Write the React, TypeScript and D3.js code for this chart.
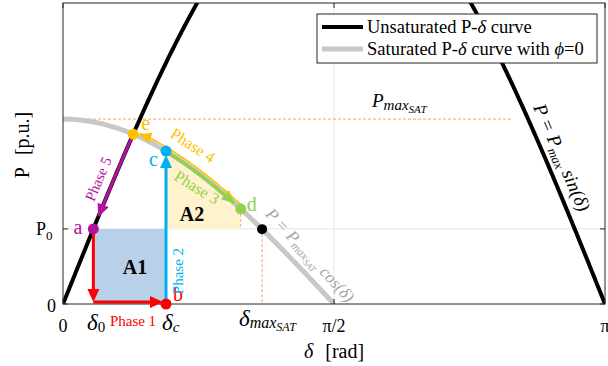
import React from 'react';
import * as d3 from 'd3';

// ---- data (p.u., rad) ----
const xTickValues = [0, Math.PI / 2, Math.PI];
const xTickLabels = ['0', 'π/2', 'π'];
const yTickValues = [0, 0.175];
const P_MAX = 1.0;
const P_MAX_SAT = 0.431;
const P0 = 0.175;
const Y_TOP = 0.7016;
const pointNames = ['a', 'b', 'c', 'd', 'e'];
const pointDeltas = [0.176, 0.597, 0.597, 1.03, 0.407];
const DELTA_MAXSAT = 1.154;

const W = 608;
const H = 366;
const FONT = '"Liberation Serif", "Times New Roman", serif';

const RED = '#ff0000';
const BLUE = '#00b0f0';
const GREEN = '#92d050';
const ORANGE = '#ffc000';
const PURPLE = '#b4129e';
const GRAY = '#c8c8c8';

function arrowHead(tip: number[], from: number[], color: string, len = 13, half = 6) {
  const dx = tip[0] - from[0];
  const dy = tip[1] - from[1];
  const L = Math.hypot(dx, dy) || 1;
  const ux = dx / L, uy = dy / L;
  const bx = tip[0] - ux * len, by = tip[1] - uy * len;
  const px = -uy, py = ux;
  const pts = [
    [tip[0], tip[1]],
    [bx + px * half, by + py * half],
    [bx - px * half, by - py * half],
  ];
  return <polygon points={pts.map(p => p.join(',')).join(' ')} fill={color} />;
}

export default function App() {
  const x = d3.scaleLinear().domain([0, Math.PI]).range([63, 605]);
  const y = d3.scaleLinear().domain([0, Y_TOP]).range([304, 3]);
  const line = d3.line<number[]>().x(d => d[0]).y(d => d[1]);

  const sinF = (d: number) => P_MAX * Math.sin(d);
  const cosF = (d: number) => P_MAX_SAT * Math.cos(d);

  const sinPts = d3.range(0, Math.PI + 0.005, 0.005).map(d => [x(d), y(sinF(d))]);
  const cosPts = d3.range(0, Math.PI / 2 + 0.005, 0.005).map(d => [x(d), y(Math.max(0, cosF(d)))]);

  const [dA, dB, dC, dD, dE] = pointDeltas;
  const A = [x(dA), y(P0)];
  const B = [x(dB), y(0)];
  const C = [x(dC), y(cosF(dC))];
  const D = [x(dD), y(cosF(dD))];
  const E = [x(dE), y(cosF(dE))];
  const MS = [x(DELTA_MAXSAT), y(cosF(DELTA_MAXSAT))];

  const a2 = d3.area<number>()
    .x(d => x(d))
    .y0(y(P0))
    .y1(d => y(cosF(d)));
  const a2Range = d3.range(dC, dD + 0.001, 0.005);

  const p3 = d3.range(dC + 0.02, dD - 0.035, 0.005).map(d => [x(d), y(cosF(d)) + 0.5]);
  const p3Tip = [x(dD - 0.035), y(cosF(dD - 0.035))];
  const p3Prev = [x(dD - 0.06), y(cosF(dD - 0.06))];
  const off = 3.5;
  const p4 = d3.range(dD - 0.01, dE + 0.03, -0.005).map(d => [x(d) + 1, y(cosF(d)) - off]);
  const p4Tip = [x(dE + 0.035), y(cosF(dE + 0.035)) - off + 1];
  const p4Prev = [x(dE + 0.07), y(cosF(dE + 0.07)) - off];
  const p5 = d3.range(dE - 0.01, dA + 0.03, -0.005).map(d => [x(d), y(sinF(d))]);
  const p5Tip = [x(dA + 0.028), y(sinF(dA + 0.028))];
  const p5Prev = [x(dA + 0.06), y(sinF(dA + 0.06))];

  const left = x(0), right = x(Math.PI), top = y(Y_TOP), bottom = y(0);

  return (
    <svg width={W} height={H} style={{ position: 'fixed', left: 0, top: 0, background: '#fff' }} fontFamily={FONT}>
      <defs>
        <clipPath id="plot">
          <rect x={left} y={top} width={right - left} height={bottom - top} />
        </clipPath>
      </defs>
      <rect x={0} y={0} width={W} height={H} fill="#fff" />

      {/* grid */}
      <line x1={left} x2={right} y1={y(P0)} y2={y(P0)} stroke="#e6e6e6" strokeWidth={1} />
      <line x1={x(Math.PI / 2)} x2={x(Math.PI / 2)} y1={top} y2={bottom} stroke="#e6e6e6" strokeWidth={1} />

      {/* areas */}
      <rect x={A[0]} y={y(P0)} width={B[0] - A[0]} height={bottom - y(P0)} fill="#b8d1e8" />
      <path d={a2(a2Range) || ''} fill="#fff2cc" />

      {/* dashed guides */}
      <line x1={left} x2={x(2.6)} y1={y(P_MAX_SAT)} y2={y(P_MAX_SAT)} stroke="#f4a46a" strokeWidth={1} strokeDasharray="3,2" />
      <line x1={D[0]} x2={D[0]} y1={D[1]} y2={y(P0)} stroke="#f4a46a" strokeWidth={1} strokeDasharray="3,2" />
      <line x1={MS[0]} x2={MS[0]} y1={MS[1]} y2={bottom} stroke="#f4a46a" strokeWidth={1} strokeDasharray="3,2" />

      {/* curves */}
      <g clipPath="url(#plot)">
        <path d={line(cosPts) || ''} fill="none" stroke={GRAY} strokeWidth={5} />
        <path d={line(sinPts) || ''} fill="none" stroke="#000" strokeWidth={4} />
      </g>

      {/* frame and ticks */}
      <rect x={left} y={top} width={right - left} height={bottom - top} fill="none" stroke="#262626" strokeWidth={1} />
      {xTickValues.map((v, i) => (
        <g key={'xt' + i}>
          <line x1={x(v)} x2={x(v)} y1={bottom} y2={bottom - 5} stroke="#262626" />
          <line x1={x(v)} x2={x(v)} y1={top} y2={top + 5} stroke="#262626" />
        </g>
      ))}
      {yTickValues.map((v, i) => (
        <g key={'yt' + i}>
          <line x1={left} x2={left + 5} y1={y(v)} y2={y(v)} stroke="#262626" />
          <line x1={right} x2={right - 5} y1={y(v)} y2={y(v)} stroke="#262626" />
        </g>
      ))}

      {/* phase 1 */}
      <line x1={A[0]} x2={A[0]} y1={A[1]} y2={bottom - 14} stroke={RED} strokeWidth={3} />
      {arrowHead([A[0], bottom - 2], [A[0], bottom - 20], RED)}
      <line x1={A[0]} x2={B[0] - 14} y1={bottom - 2} y2={bottom - 2} stroke={RED} strokeWidth={3} />
      {arrowHead([B[0] - 3, bottom - 2], [B[0] - 20, bottom - 2], RED)}

      {/* phase 2 */}
      <line x1={B[0]} x2={B[0]} y1={B[1]} y2={C[1] + 14} stroke={BLUE} strokeWidth={3} />
      {arrowHead([C[0], C[1] + 4], [C[0], C[1] + 20], BLUE)}

      {/* phase 3 */}
      <path d={line(p3) || ''} fill="none" stroke={GREEN} strokeWidth={3.5} />
      {arrowHead(p3Tip, p3Prev, GREEN)}

      {/* phase 4 */}
      <path d={line(p4) || ''} fill="none" stroke={ORANGE} strokeWidth={1.6} />
      {arrowHead(p4Tip, p4Prev, ORANGE, 12, 5.5)}

      {/* phase 5 */}
      <path d={line(p5) || ''} fill="none" stroke={PURPLE} strokeWidth={3} />
      {arrowHead(p5Tip, p5Prev, PURPLE)}

      {/* points */}
      <circle cx={A[0]} cy={A[1]} r={5.5} fill={PURPLE} />
      <circle cx={B[0]} cy={B[1]} r={5.5} fill={RED} />
      <circle cx={C[0]} cy={C[1]} r={5.5} fill={BLUE} />
      <circle cx={D[0]} cy={D[1]} r={5.5} fill={GREEN} />
      <circle cx={E[0]} cy={E[1]} r={5.5} fill={ORANGE} />
      <circle cx={MS[0]} cy={MS[1]} r={5} fill="#000" />

      {/* point labels */}
      <text x={A[0] - 11} y={A[1] + 5} fontSize={20} fill={PURPLE} textAnchor="end">{pointNames[0]}</text>
      <text x={B[0] + 7} y={B[1] - 3} fontSize={20} fill={RED}>{pointNames[1]}</text>
      <text x={C[0] - 8} y={C[1] + 15} fontSize={20} fill={BLUE} textAnchor="end">{pointNames[2]}</text>
      <text x={D[0] + 6} y={D[1] + 2} fontSize={20} fill={GREEN}>{pointNames[3]}</text>
      <text x={E[0] + 8} y={E[1] - 4} fontSize={20} fill={ORANGE}>{pointNames[4]}</text>

      <text x={135} y={274} fontSize={20} fontWeight="bold" textAnchor="middle">A1</text>
      <text x={192} y={221} fontSize={20} fontWeight="bold" textAnchor="middle">A2</text>

      {/* phase labels */}
      <text x={133} y={326} fontSize={15} fill={RED} textAnchor="middle">Phase 1</text>
      <text transform={`translate(${B[0] + 17},${271}) rotate(-90)`} fontSize={15} fill={BLUE} textAnchor="middle">Phase 2</text>
      <text transform={`translate(${194},${192}) rotate(32)`} fontSize={16} fill={GREEN} textAnchor="middle">Phase 3</text>
      <text transform={`translate(${190},${150}) rotate(33)`} fontSize={16} fill={ORANGE} textAnchor="middle">Phase 4</text>
      <text transform={`translate(${103},${181}) rotate(-67)`} fontSize={15} fill={PURPLE} textAnchor="middle">Phase 5</text>

      {/* curve formulas */}
      <text transform={`translate(${556},${160}) rotate(66.5)`} fontSize={19} textAnchor="middle" fontStyle="italic">
        <tspan>P = P</tspan><tspan fontSize={13} dy={4}>max</tspan><tspan dy={-4}> sin(δ)</tspan>
      </text>
      <text transform={`translate(${306},${259}) rotate(47)`} fontSize={17} fill="#a6a6a6" textAnchor="middle" fontStyle="italic">
        <tspan>P = P</tspan><tspan fontSize={12} dy={3}>max</tspan><tspan fontSize={9} dy={2}>SAT</tspan><tspan dy={-5}> cos(δ)</tspan>
      </text>
      <text x={372} y={107} fontSize={19} fontStyle="italic">
        <tspan>P</tspan><tspan fontSize={15} dy={3}>max</tspan><tspan fontSize={11} dy={3}>SAT</tspan>
      </text>

      {/* axis tick labels */}
      {xTickValues.map((v, i) => (
        <text key={'xl' + i} x={x(v)} y={332} fontSize={18} textAnchor="middle">{xTickLabels[i]}</text>
      ))}
      <text x={56} y={312} fontSize={18} textAnchor="end">0</text>
      <text x={36} y={235} fontSize={18}>P<tspan fontSize={13} dy={5}>0</tspan></text>

      <text x={87} y={330} fontSize={23} fontStyle="italic">δ<tspan fontSize={15} dy={2} fontStyle="normal">0</tspan></text>
      <text x={162} y={330} fontSize={23} fontStyle="italic">δ<tspan fontSize={15} dy={2}>c</tspan></text>
      <text x={239} y={326} fontSize={23} fontStyle="italic">δ<tspan fontSize={16} dy={2}>max</tspan><tspan fontSize={12} dy={3}>SAT</tspan></text>

      {/* axis titles */}
      <text x={334} y={358} fontSize={20} textAnchor="middle"><tspan fontStyle="italic">δ</tspan><tspan dx={12}>[rad]</tspan></text>
      <text transform="translate(29,145) rotate(-90)" fontSize={20} textAnchor="middle"><tspan>P</tspan><tspan dx={12}>[p.u.]</tspan></text>

      {/* legend */}
      <rect x={317} y={14} width={280} height={49} fill="#fff" stroke="#262626" strokeWidth={1} />
      <line x1={322} x2={363} y1={27} y2={27} stroke="#000" strokeWidth={4} />
      <line x1={322} x2={363} y1={49} y2={49} stroke={GRAY} strokeWidth={5} />
      <text x={367} y={33} fontSize={18.5}>Unsaturated P-<tspan fontStyle="italic">δ</tspan> curve</text>
      <text x={367} y={55} fontSize={18.5}>Saturated P-<tspan fontStyle="italic">δ</tspan> curve with <tspan fontStyle="italic">ϕ</tspan>=0</text>
    </svg>
  );
}
